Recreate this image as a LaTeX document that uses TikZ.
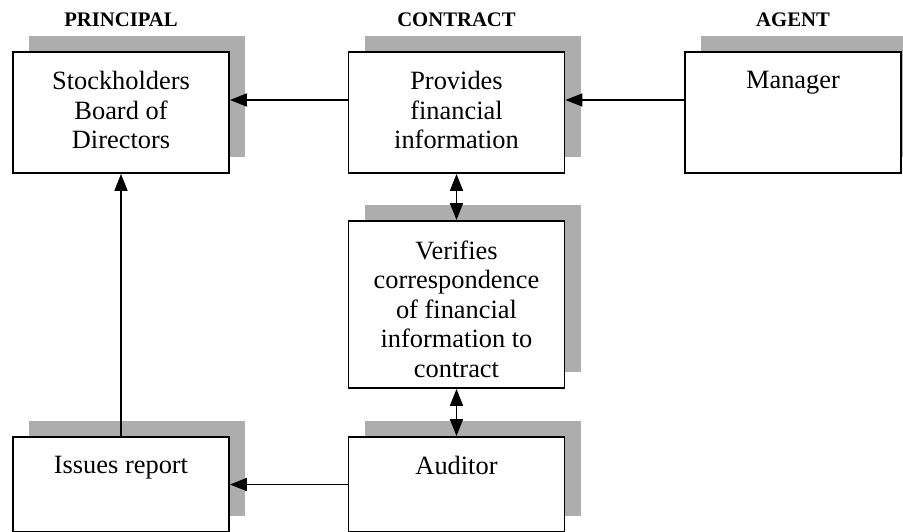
\documentclass[tikz,border=0pt]{standalone}
\usepackage{fontspec}
\setmainfont{Liberation Serif}
\usepackage{tikz}
\usepackage{xcolor}
\usetikzlibrary{arrows.meta}
\usetikzlibrary{shadows}
\usetikzlibrary{positioning}

\definecolor{shadowgray}{gray}{0.68}
\tikzset{
  box/.style={draw, line width=0.9pt, fill=white, inner sep=0pt,
    minimum width=108pt, minimum height=60.5pt,
    drop shadow={shadow xshift=8pt, shadow yshift=8pt, fill=shadowgray, opacity=1}},
  boxtext/.style={inner sep=0pt, align=center, font=\fontsize{13.2}{14.75}\selectfont},
  role/.style={inner sep=0pt, font=\fontsize{10.35}{12}\selectfont\bfseries},
  arr/.style={line width=0.8pt, -{Triangle[length=8.5pt,width=6.5pt]}},
  dblarr/.style={line width=0.8pt, {Triangle[length=8.5pt,width=6.5pt]}-{Triangle[length=8.5pt,width=6.5pt]}}
}

\begin{document}
\begin{tikzpicture}[x=0.5pt,y=-0.5pt]
\useasboundingbox (0,0) rectangle (903,531);

\node[box] (stock) at (121,112.5) {};
\node[box] (provide) at (456.5,112.5) {};
\node[box] (manager) at (793,112.5) {};
\node[box, minimum height=83.5pt] (verify) at (456.5,304.5) {};
\node[box, minimum height=47.5pt] (issues) at (121,484.5) {};
\node[box, minimum height=47.5pt] (auditor) at (456.5,484.5) {};

\node[role, above=12pt of stock.north] (principal) {PRINCIPAL};
\node[role, above=12pt of provide.north] (contract) {CONTRACT};
\node[role, above=12pt of manager.north] (agent) {AGENT};

\node[boxtext, below=10pt of stock.north] (stocktxt) {Stockholders\\Board of\\Directors};
\node[boxtext, below=10pt of provide.north] (providetxt) {Provides\\financial\\information};
\node[boxtext, below=10pt of manager.north] (managertxt) {Manager};
\node[boxtext, below=10pt of verify.north] (verifytxt) {Verifies\\correspondence\\of financial\\information to\\contract};
\node[boxtext, below=10pt of issues.north] (issuestxt) {Issues report};
\node[boxtext, below=10pt of auditor.north] (auditortxt) {Auditor};

\draw[arr] ([yshift=6.25pt]provide.west) -- ([yshift=6.25pt]stock.east);
\draw[arr] ([yshift=6.25pt]manager.west) -- ([yshift=6.25pt]provide.east);
\draw[dblarr] (provide) -- (verify);
\draw[dblarr] (verify) -- (auditor);
\draw[arr] (issues) -- (stock);
\draw[arr] (auditor) -- (issues);
\end{tikzpicture}
\end{document}
